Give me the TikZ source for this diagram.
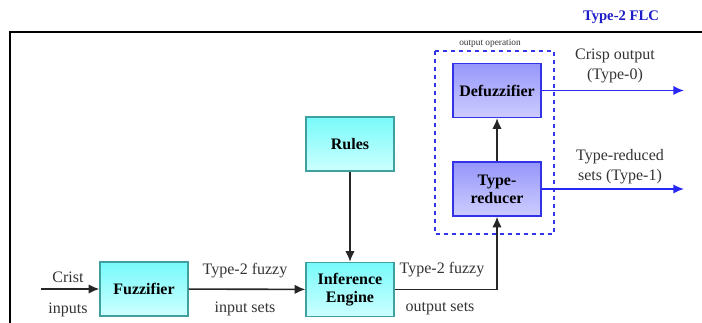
\documentclass[tikz,border=0pt]{standalone}
\usepackage{fontspec}
\setmainfont{Liberation Serif}
\usetikzlibrary{arrows.meta}

\definecolor{cyantop}{RGB}{120,250,250}
\definecolor{cyanbot}{RGB}{205,255,255}
\definecolor{cyanedge}{RGB}{64,160,160}
\definecolor{bluetop}{RGB}{150,150,250}
\definecolor{bluebot}{RGB}{205,205,255}
\definecolor{blueedge}{RGB}{50,50,230}
\definecolor{flcblue}{RGB}{30,30,200}
\definecolor{arrowblue}{RGB}{40,40,245}

\tikzset{
  cyanbox/.style={draw=cyanedge,line width=1pt,top color=cyantop,bottom color=cyanbot,
    minimum width=66pt,minimum height=40.5pt,align=center,font=\bfseries\fontsize{12}{13.5}\selectfont},
  bluebox/.style={draw=blueedge,line width=1pt,top color=bluetop,bottom color=bluebot,
    minimum width=66pt,minimum height=40.5pt,align=center,font=\bfseries\fontsize{12}{13.5}\selectfont},
  flow/.style={draw=black!85,line width=1.2pt,-{Latex[length=8pt,width=7pt]}},
  outflow/.style={draw=arrowblue,line width=1.2pt,-{Latex[length=8pt,width=7pt]}},
  lbl/.style={text=black!80,align=center,font=\fontsize{12}{15}\selectfont}
}

\begin{document}
\begin{tikzpicture}[x=0.75pt,y=-0.75pt]
  \useasboundingbox (0,0) rectangle (702,323);
  \draw[line width=1pt] (702,32)--(10,32)--(10,323);
  \node[text=flcblue,font=\bfseries\fontsize{11}{13}\selectfont] (title) at (621,17) {Type-2 FLC};

  \node[cyanbox] (fuzz) at (144,289) {Fuzzifier};
  \node[cyanbox] (infer) at (350,289.5) {Inference\\Engine};
  \node[cyanbox] (rules) at (350,144) {Rules};
  \node[bluebox] (defuzz) at (497,90.5) {Defuzzifier};
  \node[bluebox] (reducer) at (497,189) {Type-\\reducer};

  \draw[blueedge,line width=1.2pt,dash pattern=on 3pt off 3pt] (435,51) rectangle (554,234);
  \node[font=\fontsize{7}{8}\selectfont,text=black!80] (oplbl) at (490,43) {output operation};

  \coordinate (xin) at (41,289);
  \coordinate (crisp) at (684,90.5);
  \coordinate (redout) at (684,189);

  \draw[flow] (xin)--(fuzz);
  \draw[flow] (fuzz)--(infer);
  \draw[flow] (rules)--(infer);
  \draw[flow] (infer.east)-|(reducer.south);
  \draw[flow] (reducer)--(defuzz);
  \draw[outflow] (defuzz.east)--(crisp);
  \draw[outflow] (reducer.east)--(redout);

  \node[lbl] (crist) at (68,277) {Crist};
  \node[lbl] (inputs) at (68,310) {inputs};
  \node[lbl] (inset1) at (245,271) {Type-2 fuzzy};
  \node[lbl] (inset2) at (245,309) {input sets};
  \node[lbl] (outset1) at (442,270) {Type-2 fuzzy};
  \node[lbl] (outset2) at (440,309) {output sets};
  \node[lbl] (crisplbl) at (615,66) {Crisp output\\(Type-0)};
  \node[lbl] (redlbl) at (620,167) {Type-reduced\\sets (Type-1)};
\end{tikzpicture}
\end{document}
